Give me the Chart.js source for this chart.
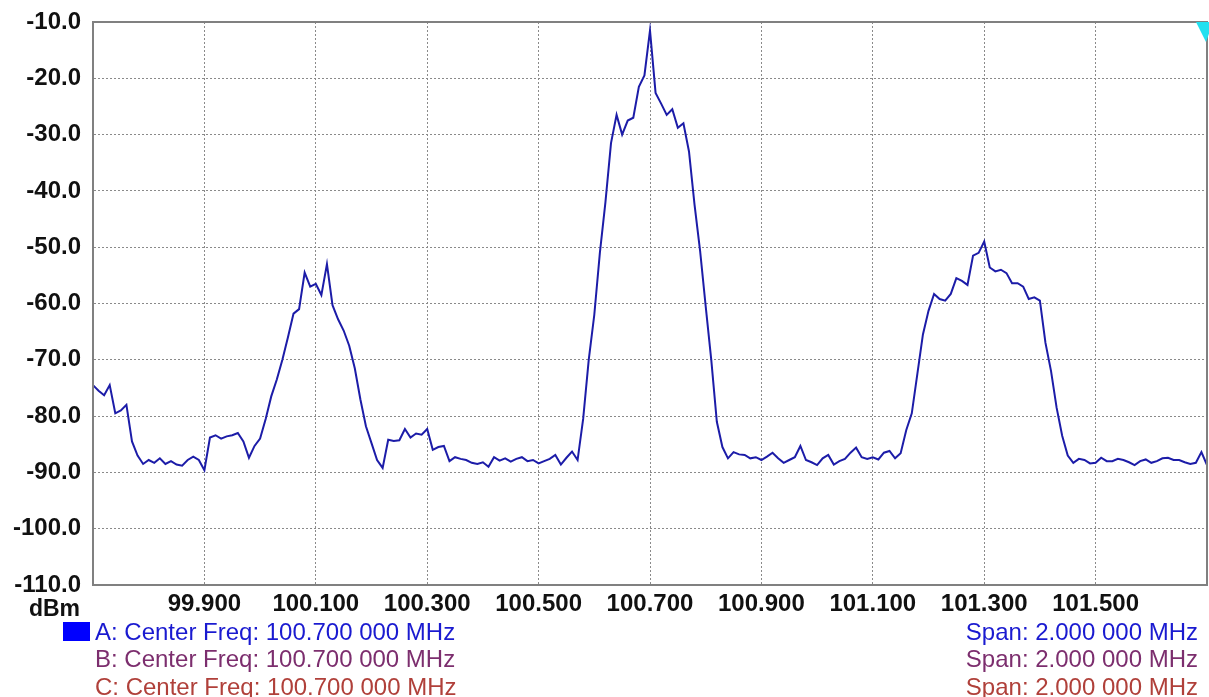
<!DOCTYPE html>
<html>
<head>
<meta charset="utf-8">
<script src="https://cdn.jsdelivr.net/npm/chart.js@4.4.0/dist/chart.umd.min.js"></script>
<style>
  html, body { margin: 0; padding: 0; background: #fff; }
  #wrap { width: 1209px; height: 697px; }
</style>
</head>
<body>
<div id="wrap"><canvas id="spectrum" width="1209" height="697"></canvas></div>
<script>
// sweep: 99.700 .. 101.700 MHz, one reading every 0.01 MHz
const startFreq = 99.7;
const stepFreq = 0.01;
const levelsDbm = [
    -74.5, -75.5, -76.3, -74.5, -79.5, -79.0, -78.0, -84.5, -87.0, -88.5,
    -87.8, -88.3, -87.5, -88.5, -88.0, -88.6, -88.8, -87.8, -87.2, -87.8,
    -89.6, -83.8, -83.4, -84.0, -83.6, -83.4, -83.0, -84.5, -87.4, -85.3,
    -84.0, -80.5, -76.5, -73.5, -70.0, -66.0, -61.8, -61.0, -54.5, -57.0,
    -56.5, -58.5, -53.0, -60.3, -62.8, -64.8, -67.5, -71.5, -77.0, -81.8,
    -84.8, -87.8, -89.2, -84.2, -84.4, -84.3, -82.3, -83.8, -83.1, -83.3,
    -82.3, -86.0, -85.5, -85.3, -88.0, -87.3, -87.6, -87.8, -88.3, -88.5,
    -88.2, -89.0, -87.3, -87.9, -87.5, -88.1, -87.6, -87.3, -88.0, -87.8,
    -88.4, -88.0, -87.6, -86.9, -88.6, -87.4, -86.3, -87.8, -80.5, -70.0,
    -62.0, -51.0, -42.0, -31.5, -26.5, -30.0, -27.5, -27.0, -21.5, -19.5,
    -11.5, -22.6, -24.5, -26.5, -25.5, -28.8, -28.0, -33.0, -42.5, -50.7,
    -60.5, -70.0, -81.0, -85.5, -87.5, -86.4, -86.8, -86.9, -87.5, -87.3,
    -87.8, -87.2, -86.5, -87.5, -88.3, -87.8, -87.3, -85.3, -87.8, -88.2,
    -88.7, -87.5, -86.9, -88.6, -88.0, -87.6, -86.5, -85.6, -87.3, -87.6,
    -87.3, -87.7, -86.5, -86.2, -87.5, -86.6, -82.5, -79.5, -72.5, -65.5,
    -61.3, -58.3, -59.2, -59.5, -58.3, -55.5, -56.0, -56.7, -51.5, -51.0,
    -49.0, -53.6, -54.3, -54.0, -54.6, -56.4, -56.4, -57.0, -59.2, -58.9,
    -59.5, -67.0, -72.0, -78.5, -83.5, -87.0, -88.3, -87.6, -87.8, -88.4,
    -88.3, -87.4, -88.0, -88.0, -87.6, -87.8, -88.2, -88.7, -88.0, -87.7,
    -88.3, -88.0, -87.5, -87.4, -87.8, -87.8, -88.2, -88.5, -88.3, -86.4,
    -88.7
];
const xTickValues = [99.9, 100.1, 100.3, 100.5, 100.7, 100.9, 101.1, 101.3, 101.5];
const yMin = -110;
const yMax = -10;
const yStep = 10;

// footer readout lines
const traceNames = ['A', 'B', 'C'];
const traceColors = ['#1a1ad0', '#7c2e6e', '#b0403a'];
const centerFreqText = 'Center Freq: 100.700 000 MHz';
const spanText = 'Span: 2.000 000 MHz';

const FONT = '"Liberation Sans", Arial, sans-serif';
const FRAME = '#808080';

const points = levelsDbm.map((v, i) => ({
    x: +(startFreq + i * stepFreq).toFixed(3),
    y: v
}));

const decorPlugin = {
    id: 'decor',
    afterDraw(chart) {
        const ctx = chart.ctx;
        const a = chart.chartArea;
        ctx.save();

        // plot frame
        ctx.strokeStyle = FRAME;
        ctx.lineWidth = 2;
        ctx.strokeRect(a.left, a.top, a.right - a.left, a.bottom - a.top);

        // marker at top right
        ctx.fillStyle = '#22e0f0';
        ctx.beginPath();
        ctx.moveTo(a.right - 11, a.top);
        ctx.lineTo(a.right + 6, a.top);
        ctx.lineTo(a.right - 1, a.top + 20);
        ctx.closePath();
        ctx.fill();

        // unit label
        ctx.fillStyle = '#111';
        ctx.font = 'bold 23px ' + FONT;
        ctx.textAlign = 'right';
        ctx.textBaseline = 'middle';
        ctx.fillText('dBm', 80, 610);

        // active trace swatch
        ctx.fillStyle = '#0000ff';
        ctx.fillRect(63, 622, 27, 19);

        ctx.font = '24px ' + FONT;
        traceNames.forEach((name, i) => {
            const y = 633 + i * 27.5;
            ctx.fillStyle = traceColors[i];
            ctx.textAlign = 'left';
            ctx.fillText(name + ': ' + centerFreqText, 95, y);
            ctx.textAlign = 'right';
            ctx.fillText(spanText, 1198, y);
        });
        ctx.restore();
    }
};

new Chart(document.getElementById('spectrum'), {
    type: 'line',
    data: {
        datasets: [{
            data: points,
            borderColor: '#1c1ca8',
            borderWidth: 2,
            pointRadius: 0,
            tension: 0,
            fill: false
        }]
    },
    options: {
        responsive: false,
        animation: false,
        devicePixelRatio: 1,
        layout: { padding: { left: 0, top: 22, right: 2, bottom: 0 } },
        plugins: {
            legend: { display: false },
            tooltip: { enabled: false }
        },
        scales: {
            x: {
                type: 'linear',
                min: startFreq,
                max: 101.7,
                afterBuildTicks: scale => {
                    scale.ticks = xTickValues.map(v => ({ value: v }));
                },
                afterFit: scale => { scale.height = 112; },
                ticks: {
                    autoSkip: false,
                    maxRotation: 0,
                    padding: 5,
                    color: '#111',
                    font: { family: FONT, size: 24, weight: 'bold' },
                    callback: v => v.toFixed(3)
                },
                grid: { color: '#8a8a8a', lineWidth: 1, drawTicks: false },
                border: { display: true, color: FRAME, width: 2, dash: [2, 2] }
            },
            y: {
                min: yMin,
                max: yMax,
                afterFit: scale => {
                    scale.width = 93;
                    // labels may overhang the plot; keep the frame at the padding edge
                    scale.paddingTop = 0;
                    scale.paddingBottom = 0;
                },
                ticks: {
                    stepSize: yStep,
                    padding: 12,
                    color: '#111',
                    font: { family: FONT, size: 24, weight: 'bold' },
                    callback: v => v.toFixed(1)
                },
                grid: { color: '#8a8a8a', lineWidth: 1, drawTicks: false },
                border: { display: true, color: FRAME, width: 2, dash: [2, 2] }
            }
        }
    },
    plugins: [decorPlugin]
});
</script>
</body>
</html>
